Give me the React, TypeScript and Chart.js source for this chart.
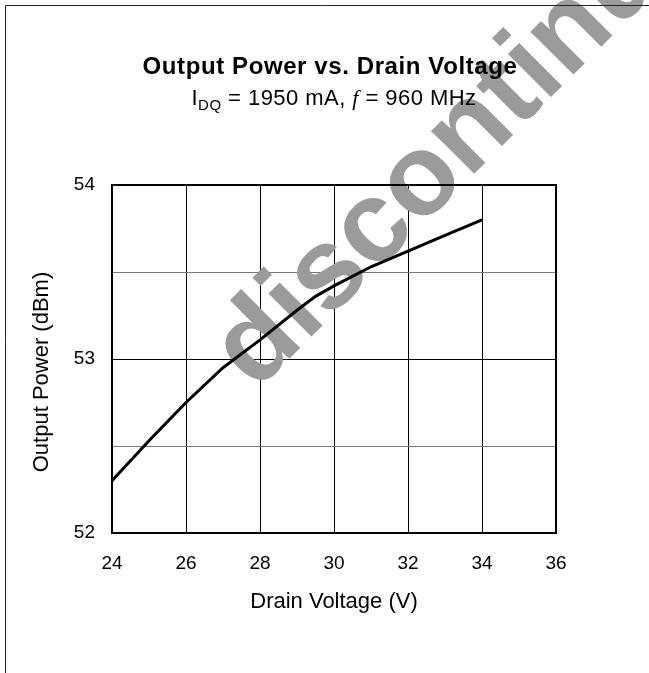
import React, { useEffect, useRef } from "react";
import { Chart, registerables } from "chart.js";

Chart.register(...registerables);

const drainVoltage = [24, 25, 26, 27, 28, 29, 29.5, 30, 31, 32, 33, 34];
const outputPower = [52.3, 52.53, 52.75, 52.95, 53.11, 53.28, 53.36, 53.42, 53.53, 53.62, 53.71, 53.8];
const xTicks = [24, 26, 28, 30, 32, 34, 36];
const yLabelTicks = [52, 53, 54];

const TITLE = "Output Power vs. Drain Voltage";
const X_TITLE = "Drain Voltage (V)";
const Y_TITLE = "Output Power (dBm)";
const WATERMARK = "discontinued";

const FONT = 'Arial, "Liberation Sans", sans-serif';

const decorPlugin = {
  id: "decor",
  beforeDatasetsDraw(chart: any) {
    const ctx = chart.ctx;
    ctx.save();
    ctx.translate(256, 392);
    ctx.rotate(-Math.PI / 4);
    ctx.font = `bold 115px ${FONT}`;
    ctx.fillStyle = "#9b9b9b";
    ctx.textAlign = "left";
    ctx.textBaseline = "alphabetic";
    ctx.fillText(WATERMARK, 0, 0);
    ctx.restore();
  },
  afterDraw(chart: any) {
    const ctx = chart.ctx;
    const a = chart.chartArea;
    ctx.save();
    // outer frame (left + top)
    ctx.strokeStyle = "#222";
    ctx.lineWidth = 1;
    ctx.beginPath();
    ctx.moveTo(5.5, 673);
    ctx.lineTo(5.5, 5.5);
    ctx.lineTo(649, 5.5);
    ctx.stroke();
    // plot border
    ctx.strokeStyle = "#000";
    ctx.lineWidth = 2;
    ctx.strokeRect(a.left, a.top, a.right - a.left, a.bottom - a.top);

    // title
    ctx.fillStyle = "#000";
    ctx.textBaseline = "alphabetic";
    ctx.textAlign = "left";
    ctx.font = `bold 24px ${FONT}`;
    (ctx as any).letterSpacing = "0.6px";
    const tw = ctx.measureText(TITLE).width;
    ctx.fillText(TITLE, 330 - tw / 2, 74);

    // subtitle with subscript and italic f
    (ctx as any).letterSpacing = "0.45px";
    const parts = [
      { t: "I", f: `22px ${FONT}`, dy: 0 },
      { t: "DQ", f: `15px ${FONT}`, dy: 5 },
      { t: " = 1950 mA, ", f: `22px ${FONT}`, dy: 0 },
      { t: "f", f: `italic 22px "Liberation Serif", "DejaVu Serif", serif`, dy: 0 },
      { t: " = 960 MHz", f: `22px ${FONT}`, dy: 0 },
    ];
    let total = 0;
    const widths = parts.map((p) => {
      ctx.font = p.f;
      const w = ctx.measureText(p.t).width;
      total += w;
      return w;
    });
    let x = 334 - total / 2;
    parts.forEach((p, i) => {
      ctx.font = p.f;
      ctx.fillText(p.t, x, 105 + p.dy);
      x += widths[i];
    });
    (ctx as any).letterSpacing = "0px";

    // y axis title
    ctx.save();
    ctx.translate(42, 372);
    ctx.rotate(-Math.PI / 2);
    ctx.textAlign = "center";
    ctx.textBaseline = "middle";
    ctx.font = `22px ${FONT}`;
    ctx.fillText(Y_TITLE, 0, 0);
    ctx.restore();
    ctx.restore();
  },
};

export default function App() {
  const ref = useRef<HTMLCanvasElement | null>(null);
  useEffect(() => {
    document.body.style.margin = "0";
    const canvas = ref.current;
    if (!canvas) return;
    const chart = new Chart(canvas, {
      type: "line",
      data: {
        datasets: [
          {
            data: drainVoltage.map((v, i) => ({ x: v, y: outputPower[i] })),
            borderColor: "#000",
            borderWidth: 3,
            pointRadius: 0,
            tension: 0,
            fill: false,
          },
        ],
      },
      options: {
        responsive: false,
        animation: false,
        devicePixelRatio: 1,
        layout: { padding: { top: 185, right: 93, left: 0, bottom: 0 } },
        plugins: { legend: { display: false }, tooltip: { enabled: false }, title: { display: false } },
        scales: {
          x: {
            type: "linear",
            min: 24,
            max: 36,
            afterBuildTicks: (s: any) => {
              s.ticks = xTicks.map((v) => ({ value: v }));
            },
            afterFit: (s: any) => {
              s.height = 140;
            },
            grid: { color: "#000", lineWidth: 1, drawTicks: false },
            border: { display: false },
            ticks: { color: "#000", font: { size: 19, family: FONT }, padding: 19, maxRotation: 0 },
            title: {
              display: true,
              text: X_TITLE,
              color: "#000",
              font: { size: 22, family: FONT },
              padding: { top: 0, bottom: 58 },
            },
          },
          y: {
            type: "linear",
            min: 52,
            max: 54,
            ticks: {
              stepSize: 0.5,
              color: "#000",
              font: { size: 19, family: FONT },
              padding: 17,
              callback: (v: any) => (yLabelTicks.includes(Number(v)) ? String(v) : ""),
            },
            afterFit: (s: any) => {
              s.width = 112;
            },
            grid: {
              drawTicks: false,
              lineWidth: 1,
              color: (c: any) => (c.tick && Number.isInteger(c.tick.value) ? "#000" : "#7a7a7a"),
            },
            border: { display: false },
          },
        },
      },
      plugins: [decorPlugin],
    });
    return () => chart.destroy();
  }, []);
  return <canvas ref={ref} width={649} height={673} style={{ display: "block", width: 649, height: 673 }} />;
}
